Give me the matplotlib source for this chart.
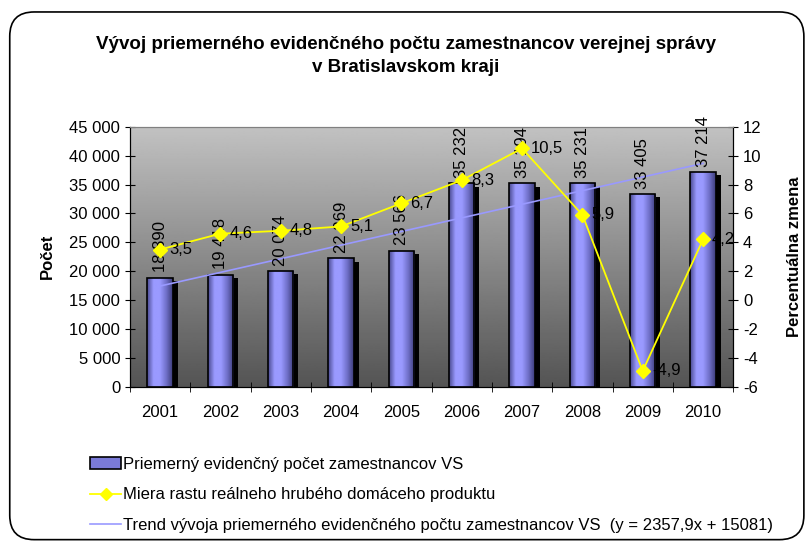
import numpy as np
import matplotlib.pyplot as plt
from matplotlib.patches import FancyBboxPatch, Rectangle
from matplotlib.lines import Line2D
from matplotlib.colors import LinearSegmentedColormap
from matplotlib.ticker import FuncFormatter, FixedLocator

plt.rcParams['font.family'] = ['Liberation Sans', 'DejaVu Sans']
plt.rcParams['axes.unicode_minus'] = False

years = ['2001', '2002', '2003', '2004', '2005', '2006', '2007', '2008', '2009', '2010']
employees = [18890, 19418, 20074, 22269, 23566, 35232, 35194, 35231, 33405, 37214]
gdp_growth = [3.5, 4.6, 4.8, 5.1, 6.7, 8.3, 10.5, 5.9, -4.9, 4.2]
trend_slope = 2357.9
trend_intercept = 15081

def fmt_thousands(v):
    return f'{int(round(v)):,}'.replace(',', ' ')

def fmt_dec(v):
    return f'{v:.1f}'.replace('.', ',')

FS = 12

fig = plt.figure(figsize=(8.12, 5.44), dpi=100)
# rounded outer frame
frame = FancyBboxPatch((0.012, 0.008), 0.978, 0.97, boxstyle='round,pad=0,rounding_size=0.03',
                       transform=fig.transFigure, fill=False, ec='black', lw=1.2,
                       mutation_aspect=812 / 544)
fig.patches.append(frame)

ax = fig.add_axes([0.160, 0.289, 0.743, 0.478])
x = np.arange(len(years))

# gray gradient background
bg = np.linspace(0.33, 0.76, 256).reshape(-1, 1)
ax.imshow(bg, cmap='gray', vmin=0, vmax=1, aspect='auto', origin='lower',
          extent=[-0.5, len(years) - 0.5, 0, 45000], zorder=0)

# bars with horizontal gradient + shadow
w = 0.42
bar_cmap = LinearSegmentedColormap.from_list('bar', ['#4a4a90', '#9a9aff', '#9a9aff', '#6f6fc8', '#3c3c78'])
grad = np.linspace(0, 1, 100).reshape(1, -1)
for xi, v in zip(x, employees):
    ax.add_patch(Rectangle((xi - w / 2 + 0.08, 0), w, v - 600, fc='black', ec='none', zorder=2))
    im = ax.imshow(grad, cmap=bar_cmap, aspect='auto', extent=[xi - w / 2, xi + w / 2, 0, v], zorder=3)
    r = Rectangle((xi - w / 2, 0), w, v, fc='none', ec='black', lw=1.2, zorder=4)
    ax.add_patch(r)
    im.set_clip_path(r)
    ax.text(xi, v + 900, fmt_thousands(v), rotation=90, ha='center', va='bottom',
            fontsize=FS, zorder=6)

ax.set_xlim(-0.5, len(years) - 0.5)
ax.set_ylim(0, 45000)

# trend line
tx = np.array([0, len(years) - 1])
ax.plot(tx, trend_slope * (tx + 1) + trend_intercept, color='#9999ff', lw=1.2, zorder=5)

ax.yaxis.set_major_locator(FixedLocator(np.arange(0, 45001, 5000)))
ax.yaxis.set_major_formatter(FuncFormatter(lambda v, p: fmt_thousands(v)))
ax.set_xticks(x)
ax.set_xticklabels(years)
ax.set_xticks(np.arange(-0.5, len(years), 1), minor=True)
ax.tick_params(axis='x', which='major', length=0, pad=13, labelsize=FS)
ax.tick_params(axis='x', which='minor', length=7, direction='inout')
ax.tick_params(axis='y', labelsize=FS, direction='inout', length=7)
ax.set_ylabel('Počet', fontsize=FS, fontweight='bold', labelpad=10)
ax.spines['top'].set_color('#808080')

ax2 = ax.twinx()
ax2.set_ylim(-6, 12)
ax2.set_yticks(np.arange(-6, 13, 2))
ax2.tick_params(axis='y', labelsize=FS, direction='inout', length=7)
ax2.plot(x, gdp_growth, color='#ffff00', lw=1.3, marker='D', markersize=7,
         markerfacecolor='#ffff00', markeredgecolor='#ffff00', zorder=7)
for xi, g in zip(x, gdp_growth):
    ax2.text(xi + 0.15, g, fmt_dec(g), ha='left', va='center', fontsize=FS, zorder=8)
ax2.set_ylabel('Percentuálna zmena', fontsize=FS, fontweight='bold', labelpad=18)
ax2.spines['top'].set_color('#808080')

fig.text(0.5, 0.897, 'Vývoj priemerného evidenčného počtu zamestnancov verejnej správy\nv Bratislavskom kraji',
         ha='center', va='center', fontsize=13.5, fontweight='bold', linespacing=1.5)

# legend
handles = [
    Rectangle((0, 0), 1, 1, fc='#7a7ad8', ec='black', lw=1.2),
    Line2D([], [], color='#ffff00', lw=1.3, marker='D', markersize=6),
    Line2D([], [], color='#9999ff', lw=1.2),
]
labels = ['Priemerný evidenčný počet zamestnancov VS',
          'Miera rastu reálneho hrubého domáceho produktu',
          'Trend vývoja priemerného evidenčného počtu zamestnancov VS  (y = 2357,9x + 15081)']
fig.legend(handles, labels, loc='upper left', bbox_to_anchor=(0.103, 0.173), frameon=False,
           fontsize=FS, handlelength=1.85, handletextpad=0.1, labelspacing=0.95, borderaxespad=0)

fig.savefig('out.png', dpi=100)
